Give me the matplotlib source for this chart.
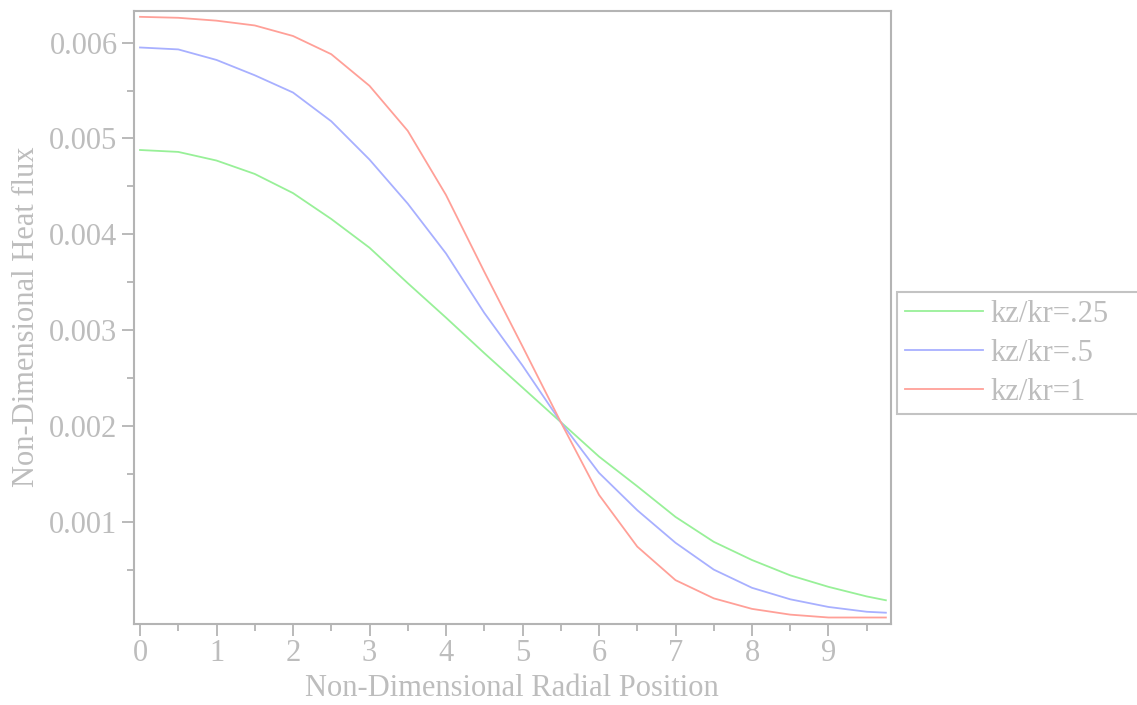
import matplotlib
matplotlib.use("Agg")
import matplotlib.pyplot as plt
from matplotlib.ticker import MultipleLocator, FixedLocator

# Data
x = [0, 0.5, 1, 1.5, 2, 2.5, 3, 3.5, 4, 4.5, 5, 5.5, 6, 6.5, 7, 7.5, 8, 8.5, 9, 9.5, 9.75]
kz_025 = [0.00488, 0.00486, 0.00477, 0.00463, 0.00443, 0.00416, 0.00386, 0.00349, 0.00313,
          0.00276, 0.00240, 0.00204, 0.00168, 0.00137, 0.00105, 0.00079, 0.00060, 0.00044,
          0.00032, 0.00022, 0.00018]
kz_05 = [0.00595, 0.00593, 0.00582, 0.00566, 0.00548, 0.00518, 0.00478, 0.00432, 0.00380,
         0.00318, 0.00263, 0.00204, 0.00151, 0.00112, 0.00078, 0.00050, 0.00031, 0.00019,
         0.00011, 0.00006, 0.00005]
kz_1 = [0.00627, 0.00626, 0.00623, 0.00618, 0.00607, 0.00588, 0.00555, 0.00508, 0.00441,
        0.00361, 0.00283, 0.00204, 0.00128, 0.00074, 0.00039, 0.00020, 0.00009, 0.00003,
        0.00000, 0.00000, 0.00000]
labels = ["kz/kr=.25", "kz/kr=.5", "kz/kr=1"]
colors = ["#98f098", "#a8b0ff", "#ffa098"]

TXT = "#bdbdbd"
SP = "#b4b4b4"
plt.rcParams['font.family'] = ['Liberation Serif', 'DejaVu Serif']

fig = plt.figure(figsize=(11.37, 7.05), dpi=100)
ax = fig.add_axes([133.5 / 1137, 1 - 623.5 / 705, (891 - 133.5) / 1137, (623.5 - 10.7) / 705])

for ys, lab, c in zip([kz_025, kz_05, kz_1], labels, colors):
    ax.plot(x, ys, color=c, lw=1.3, label=lab)

ax.set_xlim(-0.085, 9.817)
ax.set_ylim(-0.0000626, 0.006334)

ax.xaxis.set_major_locator(MultipleLocator(1))
ax.xaxis.set_minor_locator(MultipleLocator(0.5))
ax.yaxis.set_major_locator(FixedLocator([0.001, 0.002, 0.003, 0.004, 0.005, 0.006]))
ax.yaxis.set_minor_locator(FixedLocator([0.0005, 0.0015, 0.0025, 0.0035, 0.0045, 0.0055]))
ax.set_yticklabels(["0.001", "0.002", "0.003", "0.004", "0.005", "0.006"])

for s in ax.spines.values():
    s.set_color(SP)
    s.set_linewidth(1.5)

ax.tick_params(which='major', direction='out', length=8.5, width=1.3, color=SP,
               labelcolor=TXT, labelsize=22, pad=3)
ax.tick_params(which='minor', direction='out', length=5, width=1.3, color=SP)
ax.tick_params(top=False, right=False, which='both')

ax.set_xlabel("Non-Dimensional Radial Position", color=TXT, fontsize=22, labelpad=4)
ax.set_ylabel("Non-Dimensional Heat flux", color=TXT, fontsize=22, labelpad=6)

leg = ax.legend(loc='upper left', bbox_to_anchor=(897 / 1137, 1 - 292 / 705, 300 / 1137, 0),
                bbox_transform=fig.transFigure, mode='expand', fontsize=22, frameon=True,
                fancybox=False, handlelength=2.55, handletextpad=0.25, borderpad=0.25,
                labelspacing=0.33, borderaxespad=0)
leg.get_frame().set_edgecolor(SP)
leg.get_frame().set_linewidth(1.5)
for t in leg.get_texts():
    t.set_color(TXT)

fig.savefig("out.png", dpi=100)
